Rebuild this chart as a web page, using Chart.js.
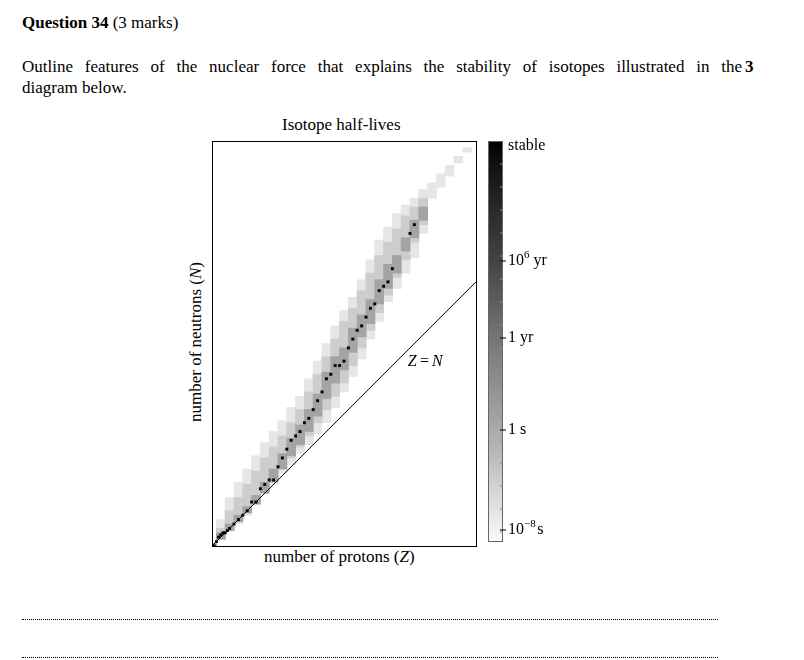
<!DOCTYPE html>
<html>
<head>
<meta charset="utf-8">
<script src="https://cdn.jsdelivr.net/npm/chart.js@4"></script>
<style>
  body { margin: 0; background: #fff; font-family: "Liberation Serif", "DejaVu Serif", serif; color: #000; }
  .page { position: relative; width: 804px; height: 660px; overflow: hidden; }
  .abs { position: absolute; white-space: nowrap; }
  .dots { position: absolute; left: 22px; width: 696px; border-top: 1.5px dotted #000; }
  #wrap { position: absolute; left: 200px; top: 130px; width: 400px; height: 430px; }
</style>
</head>
<body>
<div class="page">
  <div class="abs" style="left:22px;top:13px;font-size:17px;"><b>Question 34</b> (3 marks)</div>
  <div class="abs" style="left:22px;top:57px;font-size:17px;word-spacing:7.6px;">Outline features of the nuclear force that explains the stability of isotopes illustrated in the</div>
  <div class="abs" style="left:22px;top:78px;font-size:17px;">diagram below.</div>
  <div class="abs" style="left:745px;top:57px;font-size:17px;"><b>3</b></div>
  <div class="abs" style="left:282px;top:115px;font-size:17px;">Isotope half-lives</div>
  <div class="abs" style="left:264px;top:547px;font-size:17px;">number of protons (<i>Z</i>)</div>
  <div class="abs" style="left:196px;top:342px;font-size:17px;transform:translate(-50%,-50%) rotate(-90deg);">number of neutrons (<i>N</i>)</div>
  <div id="wrap"><canvas id="chart"></canvas></div>
  <div class="dots" style="top:619px;"></div>
  <div class="dots" style="top:657px;"></div>
</div>
<script>
// proton numbers sampled every 4
const zValues = [0,4,8,12,16,20,24,28,32,36,40,44,48,52,56,60,64,68,72,76,80,84,88,92,96,100,104,108,112,116];
// outer (lightest) band: known isotopes
const nMinAll = [0,3,7,10,14,19,24,28,33,37,42,46,51,56,63,70,77,85,94,102,111,117,124,131,142,158,163,168,174,179];
const nMaxAll = [2,12,22,29,35,41,47,52,57,63,68,76,84,92,100,107,113,121,130,139,145,151,155,158,162,165,169,173,177,181];
// middle band: longer half-lives
const nMinMid = [0,4,8,12,16,20,25,30,35,40,45,50,56,62,68,74,82,90,98,106,114,122,130,138,146,null,null,null,null,null];
const nMaxMid = [1,8,16,22,28,34,40,45,50,56,62,70,78,86,94,102,108,116,124,132,138,144,150,154,158,null,null,null,null,null];
// inner band around stability
const nMinIn = [0,3,7,11,15,19,24,29,35,41,46,52,59,67,74,80,88,95,101,110,117,124,134,140,148,null,null,null,null,null];
const nMaxIn = [1,6,10,14,18,23,29,35,42,49,55,62,69,79,86,90,99,105,112,121,128,132,140,148,154,null,null,null,null,null];
// stable / very long-lived isotopes (Z, N)
const stableZ = [1,2,3,4,5,6,7,8,10,12,14,16,18,20,22,24,26,28,30,32,34,36,38,40,42,44,46,48,50,52,54,56,58,60,62,64,66,68,70,72,74,76,78,80,82,90,92];
const stableN = [0,2,4,5,6,6,7,8,10,12,14,16,20,20,26,28,30,30,36,40,44,48,50,52,56,58,62,66,70,76,78,82,82,84,90,94,98,100,104,108,110,116,118,120,126,142,146];
const colorbarLabels = ['stable', '10^6 yr', '1 yr', '1 s', '10^-8 s'];
const colorbarPos = [0.0125, 0.3, 0.4925, 0.7225, 0.9725];

function band(lo, hi) {
  return zValues.map((z, i) => ({ x: z, y: lo[i] == null ? null : [lo[i], hi[i]] })).filter(d => d.y);
}

const frameAndBar = {
  id: 'frameAndBar',
  afterDraw(chart) {
    const { ctx, chartArea: a } = chart;
    ctx.save();
    ctx.strokeStyle = '#000';
    ctx.lineWidth = 1;
    ctx.strokeRect(a.left + 0.5, a.top + 0.5, a.width, a.height);
    // Z = N label
    const xs = chart.scales.x, ys = chart.scales.y;
    ctx.font = 'italic 16px "Liberation Serif", serif';
    ctx.fillStyle = '#000';
    ctx.fillText('Z', xs.getPixelForValue(89), ys.getPixelForValue(82));
    ctx.font = '16px "Liberation Serif", serif';
    ctx.fillText('=', xs.getPixelForValue(94.5), ys.getPixelForValue(82));
    ctx.font = 'italic 16px "Liberation Serif", serif';
    ctx.fillText('N', xs.getPixelForValue(100), ys.getPixelForValue(82));
    // colour bar
    const bx = a.right + 12, bw = 14, top = a.top, bot = a.bottom - 5;
    const g = ctx.createLinearGradient(0, top, 0, bot);
    g.addColorStop(0, '#000');
    g.addColorStop(0.06, '#111');
    g.addColorStop(0.3, '#444');
    g.addColorStop(0.5, '#777');
    g.addColorStop(0.75, '#b0b0b0');
    g.addColorStop(1, '#fafafa');
    ctx.fillStyle = g;
    ctx.fillRect(bx, top, bw, bot - top);
    ctx.strokeStyle = '#666';
    ctx.strokeRect(bx + 0.5, top + 0.5, bw, bot - top);
    ctx.strokeStyle = '#888';
    for (let y = top + 23; y < bot - 5; y += 23) {
      ctx.beginPath(); ctx.moveTo(bx + bw - 2, y); ctx.lineTo(bx + bw + 1, y); ctx.stroke();
    }
    ctx.fillStyle = '#000';
    ctx.strokeStyle = '#000';
    colorbarLabels.forEach((t, i) => {
      const y = top + colorbarPos[i] * (bot - top);
      if (i > 0) { ctx.beginPath(); ctx.moveTo(bx + bw - 2, y); ctx.lineTo(bx + bw + 4, y); ctx.stroke(); }
      const m = t.match(/^(10)\^(\S+) (.*)$/);
      let x = bx + bw + 6;
      ctx.font = '16px "Liberation Serif", serif';
      ctx.textBaseline = 'middle';
      if (m) {
        ctx.fillText(m[1], x, y); x += ctx.measureText(m[1]).width;
        ctx.font = '11px "Liberation Serif", serif';
        ctx.fillText(m[2].replace('-', '\u2212'), x, y - 6); x += ctx.measureText(m[2]).width + 4;
        ctx.font = '16px "Liberation Serif", serif';
        ctx.fillText(m[3], x, y);
      } else {
        ctx.fillText(t, x, y);
      }
    });
    ctx.restore();
  }
};

new Chart(document.getElementById('chart'), {
  type: 'bar',
  data: {
    datasets: [
      { data: band(nMinAll, nMaxAll), backgroundColor: '#e6e6e6', grouped: false, order: 5, barThickness: 9 },
      { data: band(nMinMid, nMaxMid), backgroundColor: '#cdcdcd', grouped: false, order: 4, barThickness: 9 },
      { data: band(nMinIn, nMaxIn), backgroundColor: '#a4a4a4', grouped: false, order: 3, barThickness: 9 },
      { type: 'scatter', data: stableZ.map((z, i) => ({ x: z, y: stableN[i] })), backgroundColor: '#000', pointStyle: 'rect', pointRadius: 2, order: 2 },
      { type: 'line', data: [{ x: 0, y: 0 }, { x: 120, y: 120 }], borderColor: '#000', borderWidth: 1, pointRadius: 0, order: 1 }
    ]
  },
  options: {
    responsive: true,
    maintainAspectRatio: false,
    animation: false,
    layout: { padding: { left: 12, top: 11, right: 124, bottom: 14 } },
    plugins: { legend: { display: false }, tooltip: { enabled: false } },
    scales: {
      x: { type: 'linear', min: 0, max: 120, display: false, offset: false },
      y: { type: 'linear', min: 0, max: 184, display: false }
    }
  },
  plugins: [frameAndBar]
});
</script>
</body>
</html>
